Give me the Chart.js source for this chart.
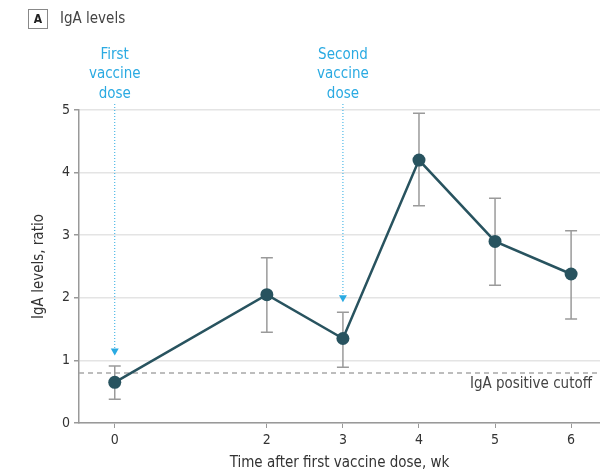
<!DOCTYPE html>
<html>
<head>
<meta charset="utf-8">
<script src="https://cdn.jsdelivr.net/npm/chart.js@4/dist/chart.umd.min.js"></script>
<style>
  html, body { margin: 0; padding: 0; background: #fff; }
  #wrap { width: 600px; height: 474px; position: relative; }
</style>
</head>
<body>
<div id="wrap"><canvas id="igaChart"></canvas></div>
<script>
// data
const weeks = [0, 2, 3, 4, 5, 6];
const igaMean = [0.65, 2.05, 1.35, 4.2, 2.9, 2.38];
const igaLower = [0.38, 1.45, 0.89, 3.47, 2.2, 1.66];
const igaUpper = [0.91, 2.64, 1.77, 4.95, 3.59, 3.07];
const yTicks = [0, 1, 2, 3, 4, 5];
const cutoffValue = 0.8;
const doseWeeks = [0, 3];
const doseArrowTips = [1.08, 1.93];
const doseLabels = [["First", "vaccine", "dose"], ["Second", "vaccine", "dose"]];

const FONT = '"Liberation Sans Narrow", "DejaVu Sans Condensed", sans-serif';
const lineColor = "#28535f";
const errColor = "#9a9a9a";
const blue = "#2aaae2";

// error bars, cutoff line, dose arrows, panel title
const extrasPlugin = {
  id: "extras",
  beforeDatasetsDraw(chart) {
    const ctx = chart.ctx;
    const x = chart.scales.x;
    const y = chart.scales.y;
    const area = chart.chartArea;

    // cutoff line
    const cy = y.getPixelForValue(cutoffValue);
    ctx.save();
    ctx.strokeStyle = "#a8a8a8";
    ctx.lineWidth = 1.5;
    ctx.setLineDash([5, 4]);
    ctx.beginPath();
    ctx.moveTo(area.left, cy);
    ctx.lineTo(area.right, cy);
    ctx.stroke();
    ctx.setLineDash([]);
    ctx.fillStyle = "#444";
    ctx.font = "15px " + FONT;
    ctx.textAlign = "right";
    ctx.textBaseline = "middle";
    ctx.fillText("IgA positive cutoff", 592, cy + 11);
    ctx.restore();

    // error bars
    ctx.save();
    ctx.strokeStyle = errColor;
    ctx.lineWidth = 1.5;
    weeks.forEach((w, i) => {
      const px = x.getPixelForValue(w);
      const lo = y.getPixelForValue(igaLower[i]);
      const hi = y.getPixelForValue(igaUpper[i]);
      ctx.beginPath();
      ctx.moveTo(px, lo);
      ctx.lineTo(px, hi);
      ctx.moveTo(px - 6, lo);
      ctx.lineTo(px + 6, lo);
      ctx.moveTo(px - 6, hi);
      ctx.lineTo(px + 6, hi);
      ctx.stroke();
    });
    ctx.restore();

    // dose arrows + labels
    ctx.save();
    doseWeeks.forEach((w, i) => {
      const px = x.getPixelForValue(w);
      const tip = y.getPixelForValue(doseArrowTips[i]);
      ctx.strokeStyle = blue;
      ctx.lineWidth = 1;
      ctx.setLineDash([1, 2]);
      ctx.beginPath();
      ctx.moveTo(px, 104);
      ctx.lineTo(px, tip - 6);
      ctx.stroke();
      ctx.setLineDash([]);
      ctx.fillStyle = blue;
      ctx.beginPath();
      ctx.moveTo(px - 4, tip - 7);
      ctx.lineTo(px + 4, tip - 7);
      ctx.lineTo(px, tip);
      ctx.closePath();
      ctx.fill();
      ctx.font = "15px " + FONT;
      ctx.textAlign = "center";
      ctx.textBaseline = "middle";
      doseLabels[i].forEach((t, j) => ctx.fillText(t, px, 55 + j * 19.5));
    });
    ctx.restore();

    // panel title
    ctx.save();
    ctx.strokeStyle = "#888";
    ctx.lineWidth = 1;
    ctx.strokeRect(28.5, 9.5, 19, 19);
    ctx.fillStyle = "#222";
    ctx.font = "bold 12px " + FONT;
    ctx.textAlign = "center";
    ctx.textBaseline = "middle";
    ctx.fillText("A", 38, 19.5);
    ctx.fillStyle = "#444";
    ctx.font = "15px " + FONT;
    ctx.textAlign = "left";
    ctx.fillText("IgA levels", 60, 19);
    ctx.restore();
  },
};

new Chart(document.getElementById("igaChart"), {
  type: "line",
  data: {
    datasets: [
      {
        label: "IgA levels",
        data: weeks.map((w, i) => ({ x: w, y: igaMean[i] })),
        borderColor: lineColor,
        backgroundColor: lineColor,
        borderWidth: 2.5,
        pointRadius: 6.5,
        pointHoverRadius: 6.5,
        pointBorderWidth: 0,
        tension: 0,
      },
    ],
  },
  options: {
    responsive: true,
    maintainAspectRatio: false,
    animation: false,
    layout: {
      autoPadding: false,
      padding: { top: 110, right: 0, left: 0, bottom: 0 },
    },
    plugins: {
      legend: { display: false },
      tooltip: { enabled: false },
    },
    scales: {
      x: {
        type: "linear",
        min: -0.47,
        max: 6.38,
        afterBuildTicks: (scale) => {
          scale.ticks = weeks.map((w) => ({ value: w }));
        },
        afterFit: (scale) => {
          scale.height = 51;
        },
        grid: {
          drawOnChartArea: false,
          drawTicks: true,
          tickLength: 5,
          tickColor: "#999",
        },
        border: { color: "#999", width: 1.5 },
        ticks: {
          color: "#333",
          padding: 4,
          font: { family: FONT, size: 14 },
          maxRotation: 0,
        },
        title: {
          display: true,
          text: "Time after first vaccine dose, wk",
          color: "#333",
          font: { family: FONT, size: 15 },
          padding: { top: 2, bottom: 2 },
        },
      },
      y: {
        min: 0,
        max: 5,
        afterBuildTicks: (scale) => {
          scale.ticks = yTicks.map((v) => ({ value: v }));
        },
        afterFit: (scale) => {
          scale.width = 79;
        },
        grid: {
          color: "#e4e4e4",
          lineWidth: 1.5,
          drawTicks: true,
          tickLength: 5,
          tickColor: "#999",
        },
        border: { color: "#999", width: 1.5 },
        ticks: {
          color: "#333",
          padding: 4,
          font: { family: FONT, size: 14 },
        },
        title: {
          display: true,
          text: "IgA levels, ratio",
          color: "#333",
          font: { family: FONT, size: 15 },
          padding: { top: 30, bottom: 0 },
        },
      },
    },
  },
  plugins: [extrasPlugin],
});
</script>
</body>
</html>
